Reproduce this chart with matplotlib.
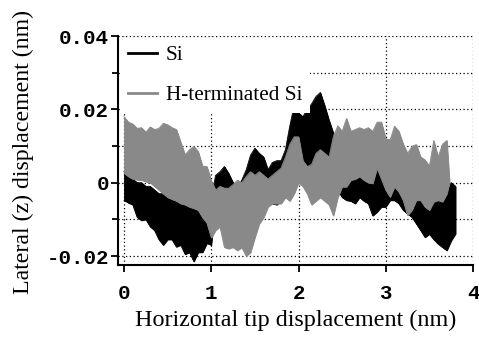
import numpy as np
import matplotlib
matplotlib.use("Agg")
import matplotlib.pyplot as plt
from matplotlib.ticker import MultipleLocator

# ---- data ----
x_gray = [0.00, 0.05, 0.10, 0.15, 0.20, 0.25, 0.30, 0.35, 0.40, 0.45,
          0.50, 0.55, 0.60, 0.65, 0.70, 0.75, 0.80, 0.85, 0.90, 0.95,
          1.00, 1.05, 1.10, 1.15, 1.20, 1.25, 1.30, 1.35, 1.40, 1.45,
          1.50, 1.55, 1.60, 1.65, 1.70, 1.75, 1.80, 1.85, 1.90, 1.95,
          2.00, 2.05, 2.10, 2.15, 2.20, 2.25, 2.30, 2.35, 2.40, 2.45,
          2.50, 2.55, 2.60, 2.65, 2.70, 2.75, 2.80, 2.85, 2.90, 2.95,
          3.00, 3.05, 3.10, 3.15, 3.20, 3.25, 3.30, 3.35, 3.40, 3.45,
          3.50, 3.55, 3.60, 3.65, 3.70, 3.73]
gray_upper = [0.0180, 0.0165, 0.0160, 0.0148, 0.0150, 0.0138, 0.0152, 0.0145, 0.0148, 0.0162,
              0.0158, 0.0150, 0.0145, 0.0110, 0.0076, 0.0090, 0.0099, 0.0085, 0.0045, 0.0044,
              0.0005, -0.0020, -0.0010, -0.0015, -0.0015, -0.0005, 0.0007, 0.0000, 0.0017, 0.0030,
              0.0020, 0.0030, 0.0020, 0.0010, 0.0020, 0.0030, 0.0040, 0.0070, 0.0105, 0.0125,
              0.0125, 0.0060, 0.0044, 0.0050, 0.0080, 0.0090, 0.0080, 0.0070, 0.0127, 0.0155,
              0.0140, 0.0175, 0.0140, 0.0145, 0.0150, 0.0145, 0.0150, 0.0140, 0.0165, 0.0165,
              0.0120, 0.0117, 0.0154, 0.0140, 0.0105, 0.0080, 0.0099, 0.0104, 0.0070, 0.0062,
              0.0045, 0.0115, 0.0070, 0.0105, 0.0115, 0.0007]
gray_lower = [0.0026, 0.0017, 0.0010, 0.0008, 0.0007, 0.0003, 0.0000, -0.0010, -0.0020, -0.0030,
              -0.0040, -0.0045, -0.0050, -0.0057, -0.0060, -0.0066, -0.0070, -0.0075, -0.0095, -0.0110,
              -0.0150, -0.0130, -0.0120, -0.0176, -0.0180, -0.0176, -0.0185, -0.0176, -0.0200, -0.0190,
              -0.0149, -0.0112, -0.0095, -0.0066, -0.0057, -0.0057, -0.0057, -0.0040, -0.0050, -0.0030,
              0.0000, -0.0010, -0.0030, -0.0060, -0.0050, -0.0040, -0.0050, -0.0060, -0.0090, -0.0040,
              -0.0011, -0.0011, 0.0007, 0.0010, 0.0017, 0.0007, 0.0000, -0.0002, 0.0040, 0.0010,
              -0.0020, -0.0039, -0.0011, -0.0025, -0.0048, -0.0089, -0.0075, -0.0048, -0.0048, -0.0066,
              -0.0075, -0.0052, -0.0048, -0.0052, -0.0030, 0.0000]

x_black = [0.00, 0.05, 0.10, 0.15, 0.20, 0.25, 0.30, 0.35, 0.40, 0.45,
           0.50, 0.55, 0.60, 0.65, 0.70, 0.75, 0.80, 0.85, 0.90, 0.95,
           1.00, 1.05, 1.10, 1.15, 1.20, 1.25, 1.30, 1.35, 1.40, 1.45,
           1.50, 1.55, 1.60, 1.65, 1.70, 1.75, 1.80, 1.85, 1.90, 1.95,
           2.00, 2.05, 2.10, 2.15, 2.20, 2.25, 2.30, 2.35, 2.40, 2.45,
           2.50, 2.55, 2.60, 2.65, 2.70, 2.75, 2.80, 2.85, 2.90, 2.95,
           3.00, 3.05, 3.10, 3.15, 3.20, 3.25, 3.30, 3.35, 3.40, 3.45,
           3.50, 3.55, 3.60, 3.65, 3.70, 3.75, 3.80]
black_upper = [0.0030, 0.0020, 0.0010, 0.0000, 0.0000, -0.0010, -0.0010, -0.0020, -0.0030, -0.0030,
               -0.0040, -0.0040, -0.0050, -0.0050, -0.0060, -0.0060, -0.0070, -0.0070, -0.0080, -0.0060,
               -0.0040, 0.0020, 0.0030, 0.0044, 0.0025, 0.0000, -0.0010, 0.0007, 0.0035, 0.0075,
               0.0094, 0.0080, 0.0070, 0.0035, 0.0055, 0.0060, 0.0060, 0.0090, 0.0155, 0.0210,
               0.0190, 0.0180, 0.0200, 0.0215, 0.0235, 0.0246, 0.0210, 0.0170, 0.0135, 0.0080,
               0.0040, 0.0030, 0.0030, 0.0030, 0.0030, 0.0030, 0.0030, 0.0050, 0.0067, 0.0030,
               0.0117, 0.0010, -0.0010, -0.0020, -0.0020, -0.0030, -0.0030, -0.0030, -0.0020, -0.0030,
               -0.0040, -0.0040, -0.0040, -0.0030, -0.0010, 0.0000, -0.0010]
black_lower = [-0.0048, -0.0055, -0.0060, -0.0094, -0.0103, -0.0100, -0.0120, -0.0130, -0.0155, -0.0170,
               -0.0155, -0.0155, -0.0175, -0.0170, -0.0195, -0.0190, -0.0215, -0.0190, -0.0190, -0.0165,
               -0.0170, -0.0060, -0.0057, -0.0057, -0.0060, -0.0020, -0.0040, -0.0048, -0.0040, -0.0020,
               0.0000, 0.0000, 0.0000, -0.0020, -0.0057, -0.0060, -0.0050, -0.0010, 0.0000, 0.0000,
               0.0000, 0.0000, -0.0010, -0.0010, 0.0000, 0.0010, 0.0010, 0.0000, -0.0010, -0.0020,
               -0.0040, -0.0048, -0.0050, -0.0057, -0.0040, -0.0050, -0.0057, -0.0090, -0.0080, -0.0066,
               -0.0066, -0.0048, -0.0048, -0.0057, -0.0075, -0.0085, -0.0094, -0.0112, -0.0130, -0.0149,
               -0.0140, -0.0155, -0.0167, -0.0176, -0.0185, -0.0158, -0.0139]

series_labels = ["Si", "H-terminated Si"]
xticks = [0, 1, 2, 3, 4]
xticklabels = ["0", "1", "2", "3", "4"]
yticks = [-0.02, 0.0, 0.02, 0.04]
yticklabels = ["-0.02", "0", "0.02", "0.04"]

# ---- figure ----
fig = plt.figure(figsize=(4.79, 3.38), dpi=100)
ax = fig.add_axes([118/479, 1-265/338, (473-118)/479, (265-36)/338])

BLACK = "#000000"
GRAY = "#898989"

ax.fill_between(x_black, black_lower, black_upper, color=BLACK, lw=0.6, zorder=2)
ax.plot(x_black, black_upper, color=BLACK, lw=0.6, zorder=2, label=series_labels[0])
ax.plot(x_black, black_lower, color=BLACK, lw=0.6, zorder=2)
ax.fill_between(x_gray, gray_lower, gray_upper, color=GRAY, lw=0.6, zorder=3)
ax.plot(x_gray, gray_upper, color=GRAY, lw=0.6, zorder=3, label=series_labels[1])
ax.plot(x_gray, gray_lower, color=GRAY, lw=0.6, zorder=3)

ax.set_xlim(-0.069, 4.0)
ax.set_ylim(-0.02245, 0.04)

ax.set_xticks(xticks)
ax.set_xticklabels(xticklabels)
ax.set_yticks(yticks)
ax.set_yticklabels(yticklabels)
ax.yaxis.set_minor_locator(MultipleLocator(0.01))

for lab in ax.get_xticklabels() + ax.get_yticklabels():
    lab.set_fontfamily("Liberation Mono")
    lab.set_fontweight("bold")
    lab.set_fontsize(15)

ax.tick_params(axis="both", which="major", direction="out", length=5, width=1.3)
ax.tick_params(axis="x", which="major", pad=8.5)
ax.tick_params(axis="y", which="major", pad=1.5)
ax.tick_params(axis="y", which="minor", direction="out", length=4, width=1.3)

for s in ["top", "right"]:
    ax.spines[s].set_visible(False)
for s in ["left", "bottom"]:
    ax.spines[s].set_linewidth(1.5)

ax.set_axisbelow(True)
ax.grid(True, which="both", axis="y", color="black", linestyle=(0, (1, 2)), linewidth=0.9)
ax.grid(True, which="major", axis="x", color="black", linestyle=(0, (1, 2)), linewidth=0.9)

serif = "Liberation Serif"
ax.set_xlabel("Horizontal tip displacement (nm)", family=serif, fontsize=17.4, labelpad=5)
ax.set_ylabel("Lateral (z) displacement (nm)", family=serif, fontsize=17.2)
ax.yaxis.set_label_coords(-0.238, (265 - 152) / (265 - 36))

leg = ax.legend(loc="upper left", bbox_to_anchor=(0.0, 1.0), borderaxespad=0.1,
                frameon=True, facecolor="white", edgecolor="none", framealpha=1,
                prop=dict(family=serif, size=15.3), handlelength=1.4,
                handletextpad=0.4, labelspacing=0.95, borderpad=0.35, fancybox=False)
leg.set_zorder(5)
for h in leg.get_lines():
    h.set_linewidth(2)

fig.savefig("out.png", dpi=100)
